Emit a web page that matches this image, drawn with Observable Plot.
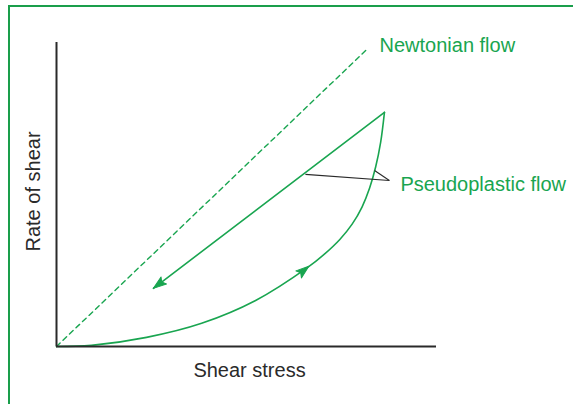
<!DOCTYPE html>
<html><head><meta charset="utf-8">
<script src="https://cdn.jsdelivr.net/npm/d3@7"></script>
<script src="https://cdn.jsdelivr.net/npm/@observablehq/plot@0.6"></script>
<style>
html,body{margin:0;padding:0;background:#fff;}
#wrap{position:relative;width:573px;height:404px;overflow:hidden;}
#wrap svg{position:absolute;left:0;top:0;}
#border{position:absolute;left:8px;top:5px;width:620px;height:460px;border-left:2px solid #1a9e4b;border-top:2px solid #1a9e4b;}
</style></head><body><div id="wrap"></div>
<script>
// Abstract units: shear stress 0..100, rate of shear 0..80
const newtonianX = [0, 82];
const newtonianY = [0, 78.5];
// pseudoplastic up-curve (increasing stress)
const upCurveX = [0, 9.2, 23.7, 38.2, 52.4, 66.1, 70.5, 74.5, 77.8, 80.4, 82.4, 84.0, 85.3, 86.3];
const upCurveY = [0, 0.3, 2.4, 6.1, 12.1, 20.8, 24.3, 28.1, 32.2, 36.7, 41.7, 47.3, 53.7, 61.6];
// pseudoplastic down-line (decreasing stress)
const downLineX = [86.3, 25.5];
const downLineY = [61.6, 15.3];
// arrow tip on the up-curve
const upArrowX = [66.4];
const upArrowY = [21.1];
// leader lines to label
const leaderX1 = [65.5, 83.7];
const leaderY1 = [45.3, 46.3];
const leaderX2 = [87.6, 87.6];
const leaderY2 = [43.7, 43.7];
// labels
const labelText = ["Newtonian flow", "Pseudoplastic flow"];
const labelX = [85.0, 90.5];
const labelY = [77.4, 41.0];
const xLabel = "Shear stress";
const yLabel = "Rate of shear";

const green = "#19a550";
const dark = "#2a2a2a";

const pts = (xs, ys) => xs.map((x, i) => ({x, y: ys[i]}));
const angle = (a, b) => Math.atan2(b.x - a.x, b.y - a.y) * 180 / Math.PI;

const newtonian = pts(newtonianX, newtonianY);
const upCurve = pts(upCurveX, upCurveY);
const downLine = pts(downLineX, downLineY);
const arrows = [
  {...downLine[1], rotate: angle(downLine[0], downLine[1])},
  {x: upArrowX[0], y: upArrowY[0], rotate: angle(upCurve[5], upCurve[6])}
];
const leaders = leaderX1.map((x1, i) => ({x1, y1: leaderY1[i], x2: leaderX2[i], y2: leaderY2[i]}));
const labels = labelText.map((t, i) => ({t, x: labelX[i], y: labelY[i]}));

const headShape = {
  draw(ctx, l, r) {
    ctx.moveTo(0, -l);
    ctx.lineTo(r, 0);
    ctx.lineTo(0, -l * 0.2);
    ctx.lineTo(-r, 0);
    ctx.closePath();
  }
};

const chart = Plot.plot({
  width: 573,
  height: 404,
  marginLeft: 56,
  marginRight: 137,
  marginTop: 42,
  marginBottom: 58,
  x: {domain: [0, 100], axis: null},
  y: {domain: [0, 80], axis: null},
  style: {fontFamily: "'Liberation Sans', Arial, sans-serif", background: "transparent"},
  marks: [
    Plot.line(newtonian, {x: "x", y: "y", stroke: green, strokeWidth: 1.4, strokeDasharray: "5,4"}),
    Plot.line(upCurve, {x: "x", y: "y", stroke: green, strokeWidth: 1.6, curve: "catmull-rom"}),
    Plot.line(downLine, {x: "x", y: "y", stroke: green, strokeWidth: 1.6}),
    Plot.vector(arrows, {x: "x", y: "y", rotate: "rotate", length: 13, r: 4.5, anchor: "end", shape: headShape, fill: green, stroke: green, strokeWidth: 1}),
    Plot.link(leaders, {x1: "x1", y1: "y1", x2: "x2", y2: "y2", stroke: dark, strokeWidth: 1.1}),
    Plot.ruleX([0], {stroke: dark, strokeWidth: 2}),
    Plot.ruleY([0], {stroke: dark, strokeWidth: 2}),
    Plot.text(labels, {x: "x", y: "y", text: "t", fill: green, fontSize: 20, textAnchor: "start", lineAnchor: "bottom"}),
    Plot.text([xLabel], {frameAnchor: "bottom", dx: 3, dy: 30, textAnchor: "middle", lineAnchor: "bottom", fill: dark, fontSize: 20}),
    Plot.text([yLabel], {frameAnchor: "left", rotate: -90, dx: -17, dy: -3, textAnchor: "middle", lineAnchor: "bottom", fill: dark, fontSize: 20})
  ]
});
const wrap = document.getElementById("wrap");
wrap.appendChild(chart);
const b = document.createElement("div");
b.id = "border";
wrap.appendChild(b);
</script>
</body></html>
